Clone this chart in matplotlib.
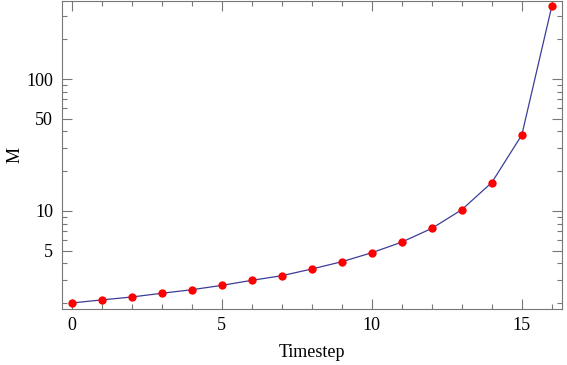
import numpy as np
import matplotlib.pyplot as plt
from matplotlib.ticker import FixedLocator, NullFormatter

timestep = list(range(17))
m_values = [2.00, 2.11, 2.22, 2.37, 2.52, 2.72, 2.97, 3.22, 3.62, 4.11,
            4.81, 5.79, 7.36, 10.2, 16.4, 37.6, 357]
x_major = [0, 5, 10, 15]
y_major = [5, 10, 50, 100]
y_minor = [2, 3, 4, 6, 7, 8, 9, 20, 30, 40, 60, 70, 80, 90, 200, 300]

plt.rcParams['font.family'] = ['Liberation Serif', 'DejaVu Serif']

fig = plt.figure(figsize=(5.67, 3.65), dpi=100)
ax = fig.add_axes([0.1085, 0.1534, 0.8827, 0.8436])

ax.plot(timestep, m_values, color='#3d3d99', lw=0.9, zorder=2)
ax.plot(timestep, m_values, 'o', color='red', markersize=6, mec='none', zorder=3)

ax.set_yscale('log')
ax.set_xlim(-0.34, 16.34)
ax.set_ylim(1.80, 390)

ax.xaxis.set_major_locator(FixedLocator(x_major))
ax.xaxis.set_minor_locator(FixedLocator(timestep))
ax.yaxis.set_major_locator(FixedLocator(y_major))
ax.yaxis.set_minor_locator(FixedLocator(y_minor))
ax.set_yticklabels([str(v) for v in y_major])
ax.yaxis.set_minor_formatter(NullFormatter())

ax.tick_params(which='both', direction='in', top=True, right=True,
               color='#777777', labelsize=13, width=0.8)
ax.tick_params(which='major', length=7, pad=6)
ax.tick_params(which='minor', length=3.5)
for s in ax.spines.values():
    s.set_color('#777777')
    s.set_linewidth(0.8)

ax.set_xlabel('Timestep', fontsize=13, labelpad=7)
ax.set_ylabel('M', fontsize=13, labelpad=2)

fig.savefig('out.png', dpi=100)
